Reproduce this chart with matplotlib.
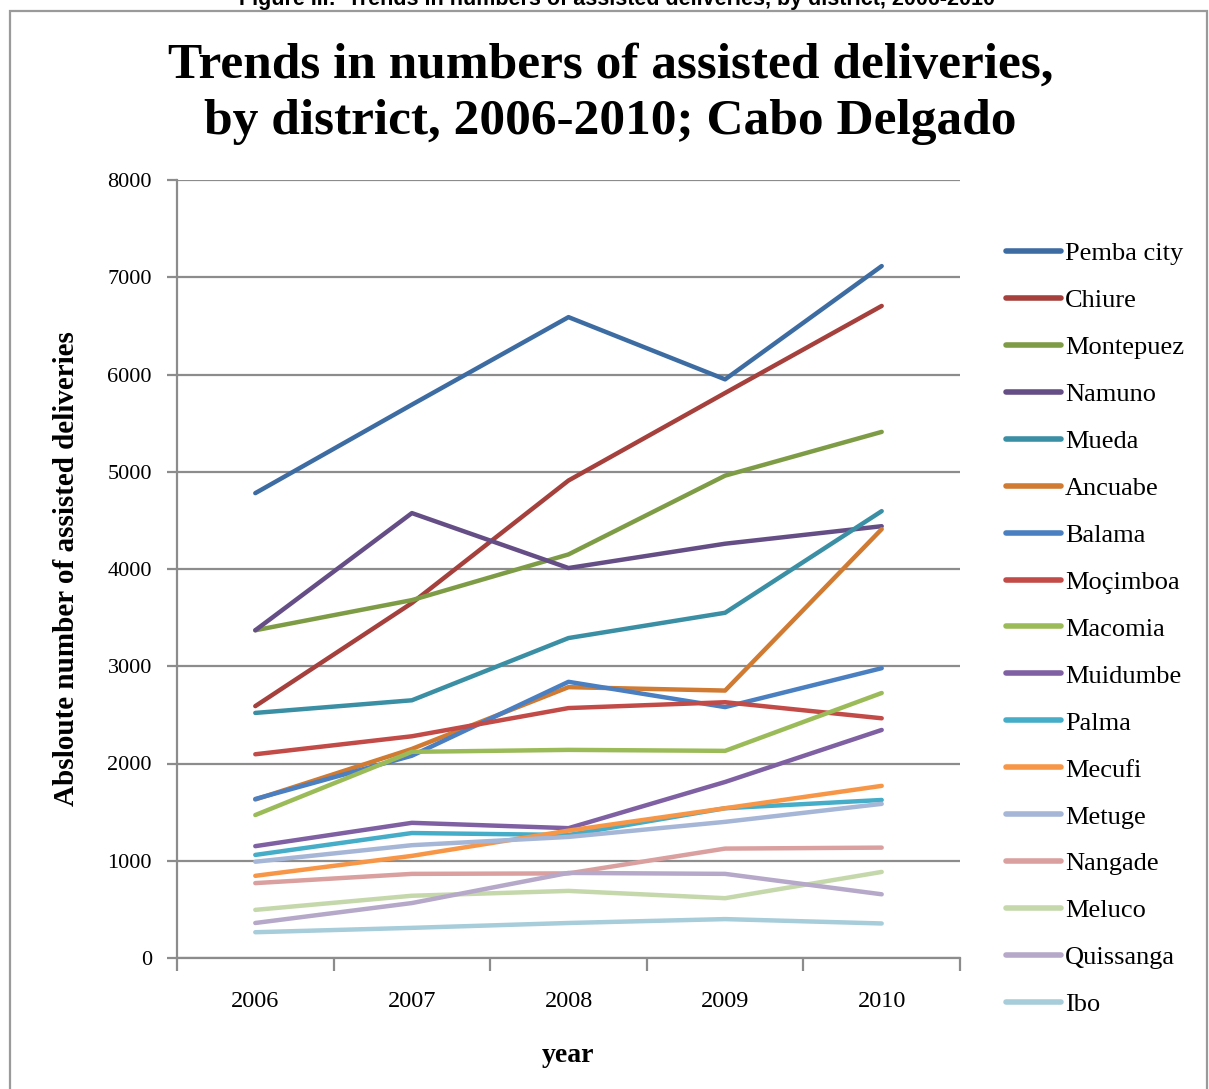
import matplotlib
matplotlib.use("Agg")
import matplotlib.pyplot as plt
from matplotlib.patches import Rectangle
from matplotlib.ticker import FixedLocator, NullFormatter

years = ["2006", "2007", "2008", "2009", "2010"]
districts = ["Pemba city", "Chiure", "Montepuez", "Namuno", "Mueda", "Ancuabe",
             "Balama", "Moçimboa", "Macomia", "Muidumbe", "Palma", "Mecufi",
             "Metuge", "Nangade", "Meluco", "Quissanga", "Ibo"]
pemba_city = [4780, 5690, 6590, 5950, 7115]
chiure = [2590, 3650, 4910, 5810, 6705]
montepuez = [3370, 3680, 4150, 4960, 5410]
namuno = [3370, 4575, 4010, 4260, 4440]
mueda = [2520, 2650, 3290, 3550, 4595]
ancuabe = [1630, 2150, 2785, 2750, 4410]
balama = [1635, 2080, 2840, 2580, 2980]
mocimboa = [2095, 2280, 2570, 2630, 2465]
macomia = [1470, 2120, 2140, 2130, 2725]
muidumbe = [1150, 1390, 1335, 1810, 2345]
palma = [1060, 1285, 1265, 1540, 1625]
mecufi = [845, 1050, 1310, 1540, 1770]
metuge = [990, 1160, 1245, 1400, 1585]
nangade = [770, 865, 870, 1125, 1135]
meluco = [495, 640, 690, 615, 885]
quissanga = [360, 565, 875, 865, 655]
ibo = [265, 310, 360, 400, 355]

series = [pemba_city, chiure, montepuez, namuno, mueda, ancuabe, balama,
          mocimboa, macomia, muidumbe, palma, mecufi, metuge, nangade,
          meluco, quissanga, ibo]
colors = ["#3D6CA3", "#A5403C", "#7E9C45", "#654D86", "#3A8FA4", "#D07A32",
          "#4A7FC1", "#C24A47", "#9BBB59", "#7F60A3", "#45ADC8", "#F79646",
          "#A5B6D6", "#D9A09F", "#C5D8AB", "#B6A8C9", "#A7CCDA"]

serif = ["Liberation Serif", "DejaVu Serif"]

fig = plt.figure(figsize=(12.09, 10.89), dpi=100)
ax = fig.add_axes([177/1209, 1-958/1089, (960-177)/1209, (958-180)/1089])

x = list(range(len(years)))
for name, vals, c in zip(districts, series, colors):
    ax.plot(x, vals, color=c, lw=3.2, solid_capstyle="round",
            solid_joinstyle="round", label=name)

ax.set_xlim(-0.5, 4.5)
ax.set_ylim(0, 8000)
ax.set_yticks(range(0, 8001, 1000))
ax.yaxis.grid(True, color="#8c8c8c", lw=1.6)
ax.set_axisbelow(True)
for s in ["top", "right"]:
    ax.spines[s].set_visible(False)
for s in ["left", "bottom"]:
    ax.spines[s].set_color("#8c8c8c")
    ax.spines[s].set_linewidth(1.6)

ax.xaxis.set_major_locator(FixedLocator([-0.5, 0.5, 1.5, 2.5, 3.5, 4.5]))
ax.xaxis.set_major_formatter(NullFormatter())
ax.xaxis.set_minor_locator(FixedLocator(x))
ax.set_xticklabels(years, minor=True)
ax.tick_params(axis="x", which="major", length=9, width=1.6, color="#8c8c8c", direction="out")
ax.tick_params(axis="x", which="minor", length=0, pad=24, labelsize=17.5)
ax.tick_params(axis="y", length=7, width=1.6, color="#8c8c8c", direction="out", pad=11, labelsize=16)
for lab in ax.get_xticklabels(minor=True) + ax.get_yticklabels():
    lab.set_family(serif)

ax.set_xlabel("year", fontsize=20, fontweight="bold", family=serif, labelpad=22)
ax.set_ylabel("Absloute number of assisted deliveries", fontsize=21,
              fontweight="bold", family=serif, labelpad=20)

fig.text(0.505, 1 - 94/1089, "Trends in numbers of assisted deliveries,\nby district, 2006-2010; Cabo Delgado",
         ha="center", va="center", fontsize=37, fontweight="bold", family=serif,
         linespacing=1.3)

fig.text(0.51, 1 + 1/1089, "Figure III:  Trends in numbers of assisted deliveries, by district, 2006-2010",
         ha="center", va="center", fontsize=15.5, fontweight="bold",
         family=["Liberation Sans", "DejaVu Sans"])

leg = ax.legend(loc="upper left", bbox_to_anchor=(995/1209, 1 - 231/1089),
                bbox_transform=fig.transFigure, frameon=False,
                prop={"family": serif, "size": 19}, handlelength=2.1,
                handletextpad=0.15, labelspacing=0.89, borderaxespad=0)
for h in leg.get_lines():
    h.set_linewidth(4)

fig.add_artist(Rectangle((10/1209, -0.05), (1207-10)/1209, 1.05 - 11/1089,
                         transform=fig.transFigure, fill=False,
                         edgecolor="#9a9a9a", lw=1.6))

fig.savefig("out.png", dpi=100)
